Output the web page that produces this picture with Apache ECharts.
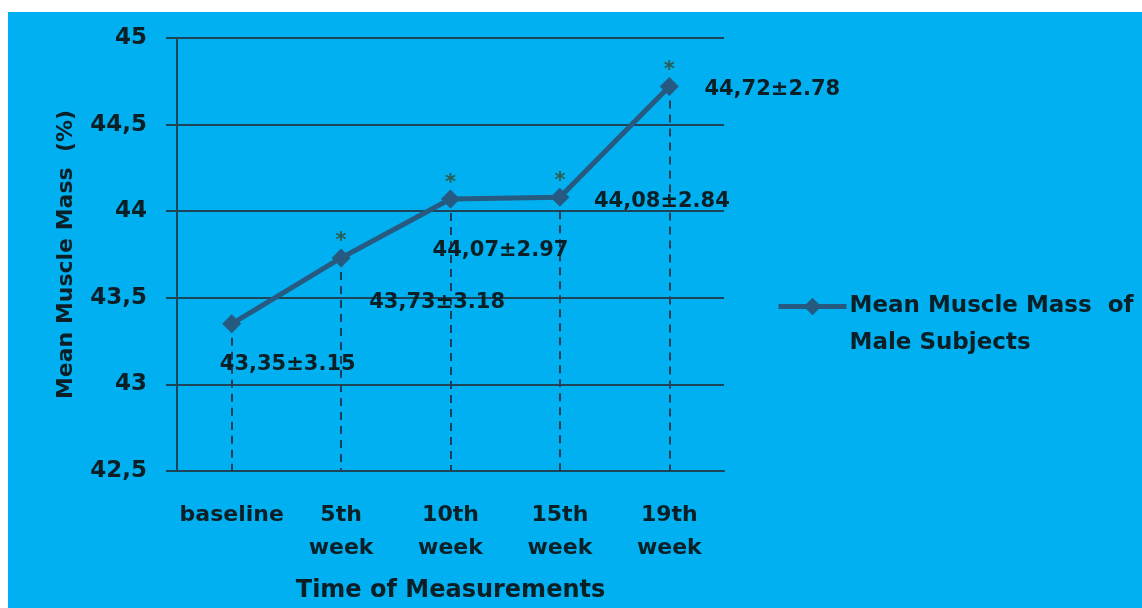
<!DOCTYPE html>
<html>
<head>
<meta charset="utf-8">
<script src="https://cdn.jsdelivr.net/npm/echarts@6/dist/echarts.min.js"></script>
<style>
html,body{margin:0;padding:0;background:#fff;}
#chart{width:1142px;height:608px;}
</style>
</head>
<body>
<div id="chart"></div>
<script>
const categories = ['baseline', '5th\nweek', '10th\nweek', '15th\nweek', '19th\nweek'];
const meanValues = [43.35, 43.73, 44.07, 44.08, 44.72];
const sdValues = ['3.15', '3.18', '2.97', '2.84', '2.78'];
const significant = [false, true, true, true, true];
const seriesName = 'Mean Muscle Mass  of Male Subjects';
const yMin = 42.5, yMax = 45, yStep = 0.5;

// layout of value labels relative to their point (pixels)
const labelOffsets = [[56, 41], [96, 45], [50, 51], [102, 4], [103, 3]];

const textColor = '#0b1f26';
const lineColor = '#275a80';
const gridColor = '#1c4658';
const font = 'DejaVu Sans';

const chart = echarts.init(document.getElementById('chart'));

const mainData = meanValues.map((v, i) => ({
  value: v,
  label: {
    show: true,
    position: 'inside',
    offset: labelOffsets[i],
    formatter: () => v.toFixed(2).replace('.', ',') + '±' + sdValues[i]
  }
}));

const dropLines = meanValues.map((v, i) => [
  { coord: [i, v] },
  { coord: [i, yMin] }
]);

const starData = meanValues.map((v, i) => significant[i] ? v : '-');

chart.setOption({
  backgroundColor: '#ffffff',
  animation: false,
  graphic: {
    elements: [{
      type: 'rect',
      z: -100,
      silent: true,
      shape: { x: 8, y: 12, width: 1134, height: 596 },
      style: { fill: '#00B0F0' }
    }]
  },
  grid: { left: 177, right: 418, top: 38, bottom: 135 },
  legend: {
    data: [seriesName],
    left: 771,
    top: 246,
    itemWidth: 68,
    itemHeight: 22,
    itemGap: 4,
    lineStyle: { width: 5 },
    formatter: () => ' \nMean Muscle Mass  of\nMale Subjects',
    textStyle: { color: textColor, fontSize: 23, fontWeight: 'bold', fontFamily: font, lineHeight: 37, padding: [0, 0, 0, -2] }
  },
  xAxis: {
    type: 'category',
    data: categories,
    boundaryGap: true,
    name: 'Time of Measurements',
    nameLocation: 'middle',
    nameGap: 108,
    nameTextStyle: { color: textColor, fontSize: 24, fontWeight: 'bold', fontFamily: font },
    axisLine: { show: true, onZero: false, lineStyle: { color: gridColor, width: 2 } },
    axisTick: { show: false },
    axisLabel: {
      color: textColor, fontSize: 22, fontWeight: 'bold', fontFamily: font, lineHeight: 33,
      margin: 28, verticalAlign: 'top', interval: 0
    },
    splitLine: { show: false }
  },
  yAxis: {
    type: 'value',
    min: yMin, max: yMax, interval: yStep,
    name: 'Mean Muscle Mass  (%)',
    nameLocation: 'middle',
    nameGap: 100,
    nameTextStyle: { color: textColor, fontSize: 22, fontWeight: 'bold', fontFamily: font },
    axisLine: { show: true, lineStyle: { color: gridColor, width: 2 } },
    axisTick: { show: true, length: 11, lineStyle: { color: gridColor, width: 2 } },
    axisLabel: {
      color: textColor, fontSize: 23, fontWeight: 'bold', fontFamily: font, margin: 30,
      formatter: v => String(v).replace('.', ',')
    },
    splitLine: { show: true, lineStyle: { color: gridColor, width: 2 } }
  },
  series: [
    {
      name: seriesName,
      type: 'line',
      data: mainData,
      symbol: 'diamond',
      symbolSize: [19, 19],
      lineStyle: { color: lineColor, width: 5 },
      itemStyle: { color: lineColor },
      label: { color: textColor, fontSize: 21, fontWeight: 'bold', fontFamily: font },
      z: 5,
      markLine: {
        silent: true,
        symbol: 'none',
        label: { show: false },
        lineStyle: { color: '#1d3f5c', width: 2, type: [8, 6] },
        data: dropLines
      }
    },
    {
      name: 'significance',
      type: 'line',
      data: starData,
      symbol: 'circle',
      symbolSize: 2,
      showSymbol: true,
      itemStyle: { color: 'rgba(0,0,0,0)' },
      lineStyle: { opacity: 0 },
      silent: true,
      z: 6,
      label: {
        show: true,
        position: 'inside',
        offset: [0, -16],
        formatter: '*',
        color: '#2b5e50',
        fontSize: 21,
        fontWeight: 'bold',
        fontFamily: font
      }
    }
  ]
});
</script>
</body>
</html>
